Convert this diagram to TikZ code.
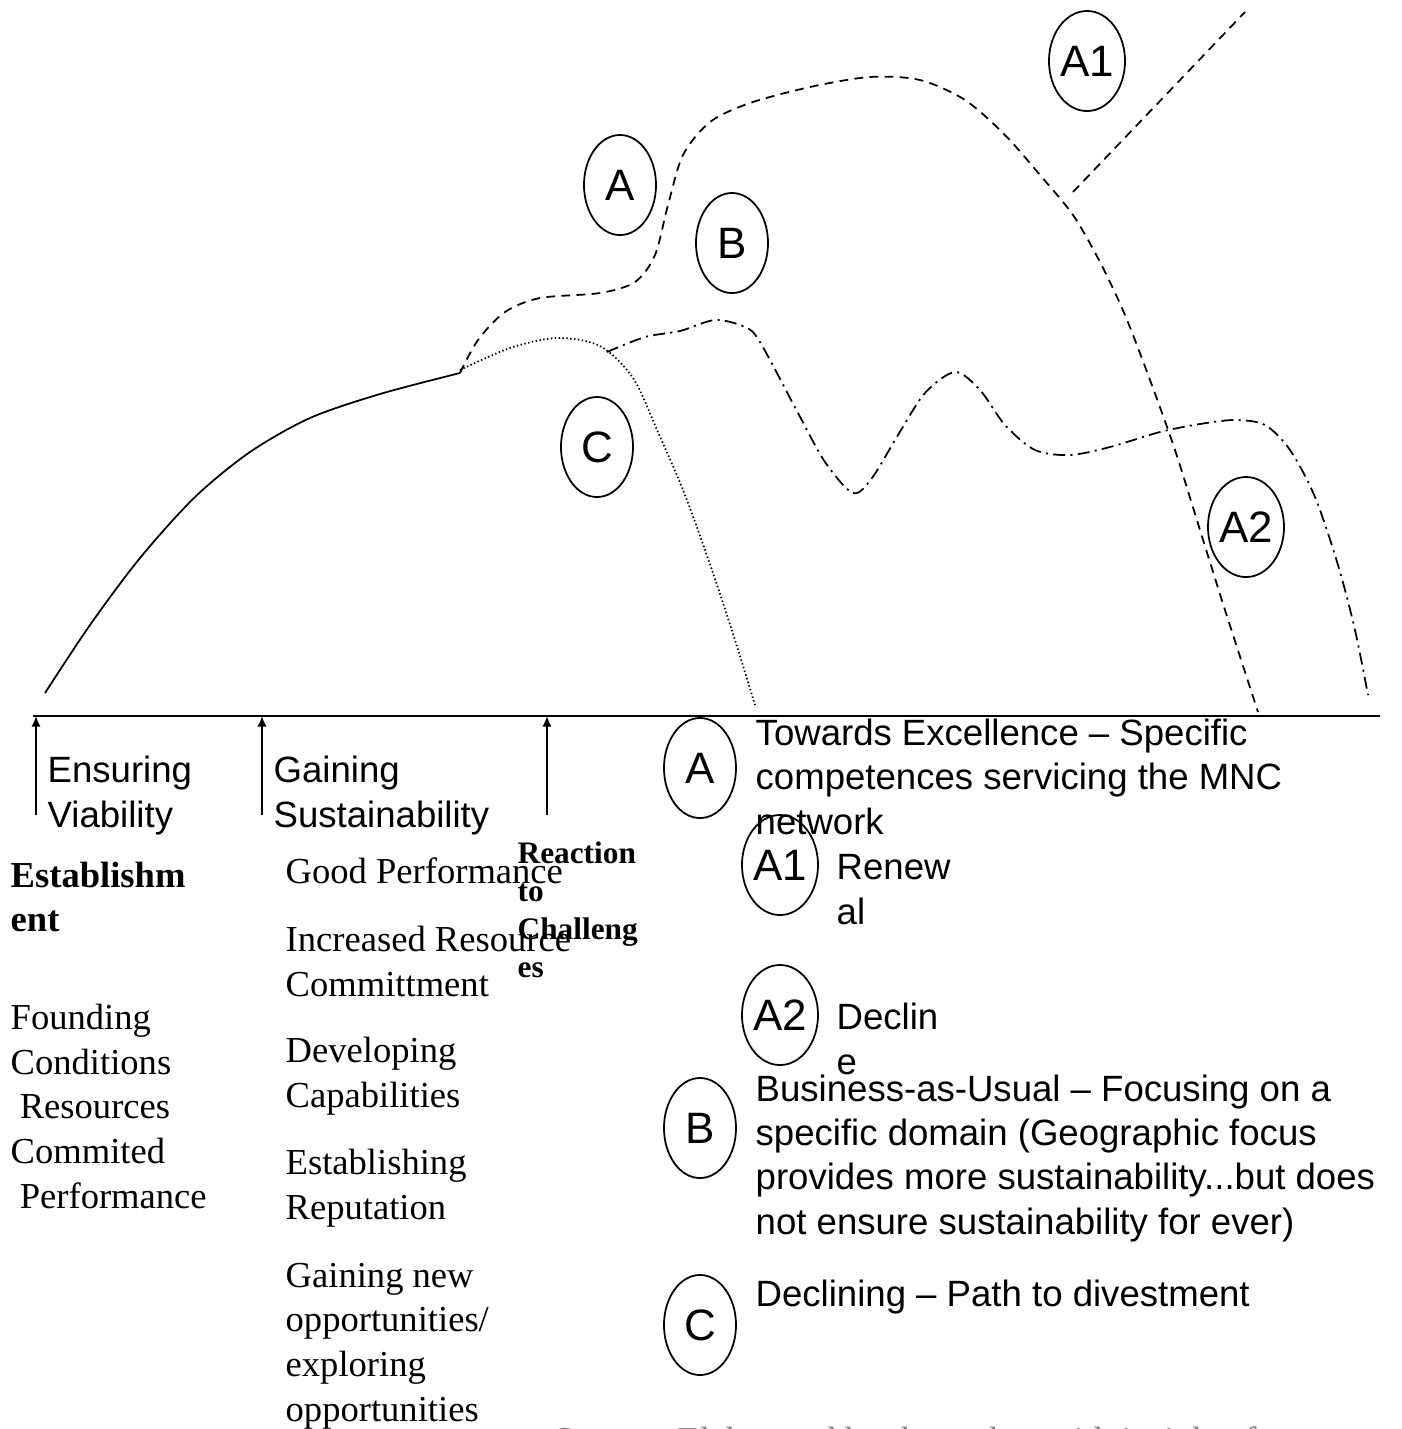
\documentclass[tikz,border=0pt]{standalone}
\usepackage{fontspec}
\setmainfont{Liberation Serif}
\setsansfont{Liberation Sans}
\usetikzlibrary{shapes.geometric,arrows.meta}

\begin{document}
\begin{tikzpicture}[x=0.01cm,y=-0.01cm,
  phase/.style={ellipse,draw,line width=0.5pt,minimum width=0.72cm,minimum height=1cm,inner sep=0pt,font=\sffamily\fontsize{12.5}{14}\selectfont},
  sans/.style={anchor=base west,inner sep=0pt,align=left,font=\sffamily\fontsize{10.4}{12.6}\selectfont},
  serif/.style={anchor=base west,inner sep=0pt,align=left,font=\fontsize{10.4}{12.7}\selectfont},
  pathA/.style={line width=0.5pt,dash pattern=on 2.5pt off 1.8pt},
  pathB/.style={line width=0.5pt,dash pattern=on 3.4pt off 1.5pt on 0.6pt off 1.5pt},
  pathC/.style={line width=0.5pt,dash pattern=on 0.4pt off 0.7pt}]
\useasboundingbox (0,0) rectangle (1402,1429);

\draw[line width=0.5pt] plot[smooth] coordinates {(45,693) (90,625) (140,558) (195,497) (250,452) (310,418) (380,394) (460,373)};
\draw[pathA] plot[smooth] coordinates {(460,373) (478,340) (505,312) (540,298) (600,293) (635,282) (655,255) (668,205) (683,155) (710,122) (750,103) (810,87) (870,77) (920,80) (965,100) (1005,135) (1040,175) (1073,215) (1100,262) (1125,315) (1150,380) (1175,450) (1200,530) (1225,610) (1258,712)};
\draw[pathA] (1073,192) -- (1245,12);
\draw[pathC] plot[smooth] coordinates {(460,370) (510,348) (557,338) (600,346) (633,378) (658,432) (685,495) (712,570) (735,640) (755,705)};
\draw[pathB] plot[smooth] coordinates {(607,352) (645,337) (680,331) (715,320) (745,327) (760,342) (798,413) (825,462) (853,493) (872,478) (898,435) (925,393) (955,372) (980,390) (1005,425) (1035,450) (1070,455) (1110,447) (1160,432) (1200,424) (1235,420) (1265,425) (1290,450) (1315,497) (1338,565) (1355,630) (1368,695)};

\node[phase] (topA) at (620,185) {A};
\node[phase] (topB) at (732,243) {B};
\node[phase] (topC) at (597,447) {C};
\node[phase] (topA1) at (1087,61) {A1};
\node[phase] (topA2) at (1246,527) {A2};

\draw[line width=0.6pt] (33,716) -- (1380,716);
\foreach \x in {36,262,547}
  \draw[line width=0.5pt,-{Latex[length=3pt,width=2.6pt]}] (\x,815) -- (\x,716);

\node[sans] (ensuring) at (47,827) {Ensuring\\Viability};
\node[sans] (gaining) at (273,827) {Gaining\\Sustainability};

\node[serif,font=\bfseries\fontsize{10.4}{12.4}\selectfont] (establish) at (10,931) {Establishm\\ent};
\node[serif] (founding) at (10,1208) {Founding\\Conditions\\\ Resources\\Commited\\\ Performance};
\node[serif] (good) at (285,883) {Good Performance};
\node[serif] (resource) at (285,996) {Increased Resource\\Committment};
\node[serif] (develop) at (285,1107) {Developing\\Capabilities};
\node[serif] (reputation) at (285,1219) {Establishing\\Reputation};
\node[serif] (explore) at (285,1421) {Gaining new\\opportunities/\\exploring\\opportunities};
\node[serif,font=\bfseries\fontsize{8.9}{10.8}\selectfont] (reaction) at (517,977) {Reaction\\to\\Challeng\\es};

\node[phase] (keyA) at (700,768) {A};
\node[phase] (keyA1) at (780,865) {A1};
\node[phase] (keyA2) at (780,1015) {A2};
\node[phase] (keyB) at (700,1128) {B};
\node[phase] (keyC) at (700,1325) {C};

\node[sans] (textA) at (755,834) {Towards Excellence -- Specific\\competences servicing the MNC\\network};
\node[sans] (textA1) at (836,924) {Renew\\al};
\node[sans] (textA2) at (836,1074) {Declin\\e};
\node[sans] (textB) at (755,1234) {Business-as-Usual -- Focusing on a\\specific domain (Geographic focus\\provides more sustainability...but does\\not ensure sustainability for ever)};
\node[sans] (textC) at (755,1306) {Declining -- Path to divestment};

\node[serif,text=gray] (source) at (553,1452) {Source: Elaborated by the author with insights from};
\end{tikzpicture}
\end{document}
